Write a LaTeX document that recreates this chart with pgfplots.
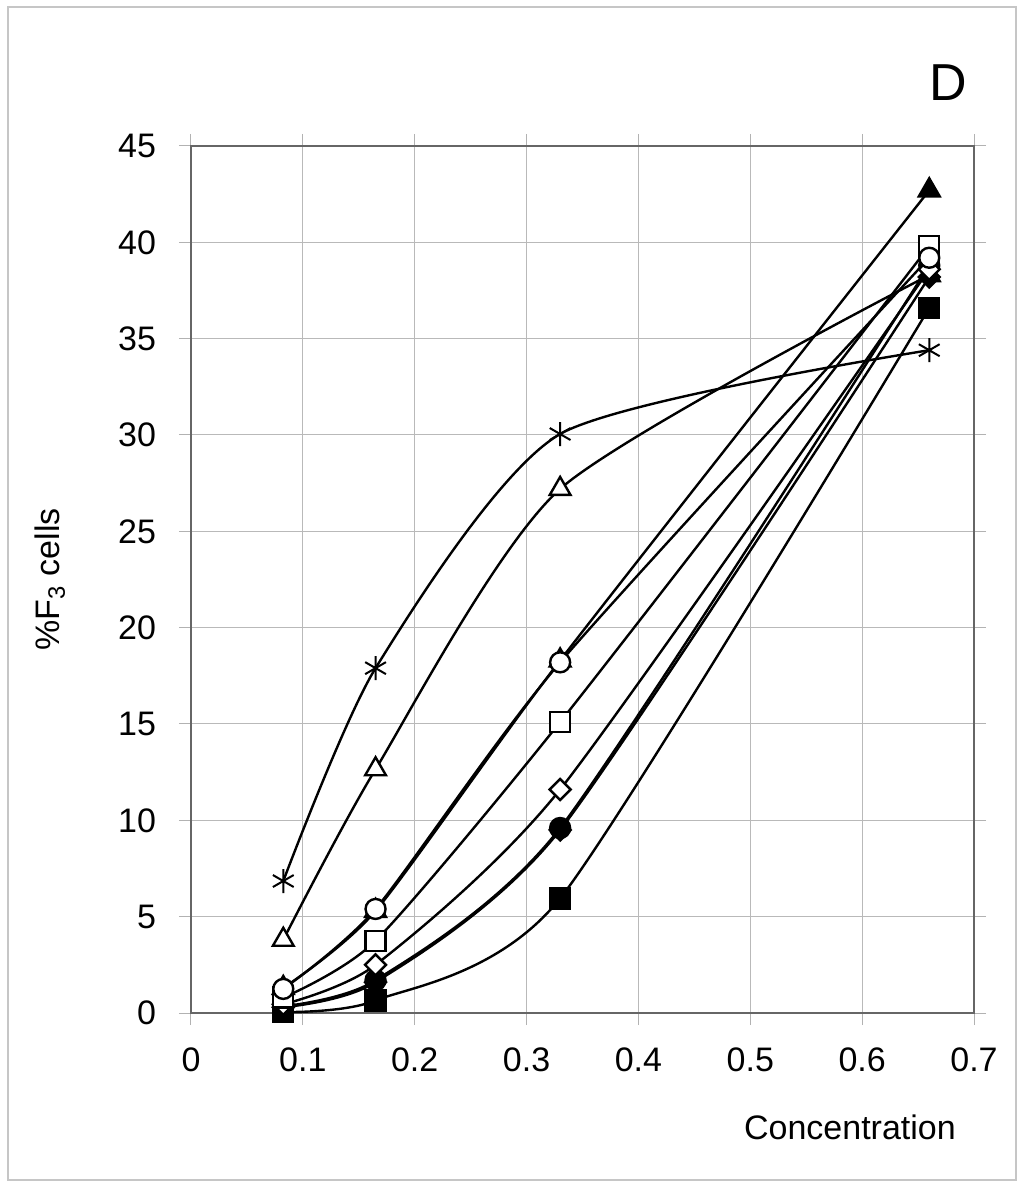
\documentclass[border=0pt]{standalone}
\usepackage{fontspec}
\setmainfont{Liberation Sans}
\usepackage{pgfplots}
\pgfplotsset{compat=1.18}
\begin{document}
\begin{tikzpicture}
\path[use as bounding box] (-95.5pt,-87pt) rectangle (416.5pt,506.5pt);
\begin{axis}[
    at={(0,0)}, anchor=south west,
    scale only axis,
    width=391.5pt, height=433.5pt,
    xmin=0, xmax=0.7, ymin=0, ymax=45,
    xtick={0,0.1,0.2,0.3,0.4,0.5,0.6,0.7},
    ytick={0,5,10,15,20,25,30,35,40,45},
    xticklabels={0,0.1,0.2,0.3,0.4,0.5,0.6,0.7},
    grid=major,
    major grid style={gray!55, line width=0.5pt},
    axis line style={gray!80!black, line width=1pt},
    tick style={gray!60, line width=0.5pt},
    tick align=outside, major tick length=6pt,
    ticklabel style={font=\fontsize{17}{17}\selectfont},
    xticklabel style={yshift=-8pt},
    yticklabel style={xshift=-8pt},
    /pgf/number format/assume math mode=true,
    xlabel={Concentration},
    xlabel style={font=\fontsize{17}{17}\selectfont, at={(axis description cs:0.8416,-0.1315)}, anchor=center},
    ylabel={\%F\textsubscript{3} cells},
    ylabel style={font=\fontsize{17}{17}\selectfont, at={(axis description cs:-0.18,0.5)}, anchor=center},
    every axis plot/.append style={black, line width=1.2pt, smooth, tension=0.4},
    mark options={solid, line width=1pt},
]
% asterisk
\addplot[mark=asterisk, mark size=6pt] coordinates {(0.0825,6.85) (0.165,17.9) (0.33,30.05) (0.66,34.4)};
% open triangle
\addplot[mark=triangle*, mark size=6pt, mark options={fill=white}] coordinates {(0.0825,3.8) (0.165,12.65) (0.33,27.2) (0.66,38.3)};
% filled square
\addplot[mark=square*, mark size=5pt, mark options={fill=black}] coordinates {(0.0825,0.05) (0.165,0.65) (0.33,5.95) (0.66,36.6)};
% filled circle
\addplot[mark=*, mark size=5pt, mark options={fill=black}] coordinates {(0.0825,0.35) (0.165,1.7) (0.33,9.6) (0.66,38.8)};
% filled diamond
\addplot[mark=square*, mark size=3.7pt, mark options={fill=black, rotate=45}] coordinates {(0.0825,0.3) (0.165,1.6) (0.33,9.5) (0.66,38.2)};
% open diamond
\addplot[mark=square*, mark size=3.7pt, mark options={fill=white, rotate=45}] coordinates {(0.0825,0.45) (0.165,2.5) (0.33,11.6) (0.66,38.6)};
% open square
\addplot[mark=square*, mark size=5pt, mark options={fill=white}] coordinates {(0.0825,0.8) (0.165,3.75) (0.33,15.1) (0.66,39.8)};
% filled triangle
\addplot[mark=triangle*, mark size=6pt, mark options={fill=black}] coordinates {(0.0825,1.3) (0.165,5.3) (0.33,18.3) (0.66,42.7)};
% open circle
\addplot[mark=*, mark size=5pt, mark options={fill=white}] coordinates {(0.0825,1.25) (0.165,5.4) (0.33,18.2) (0.66,39.2)};
\end{axis}
\node[font=\fontsize{26}{26}\selectfont] at (378.5pt,465pt) {D};
\draw[gray!45, line width=1pt] (-91.5pt,-83.5pt) rectangle (412.5pt,503pt);
\end{tikzpicture}
\end{document}
